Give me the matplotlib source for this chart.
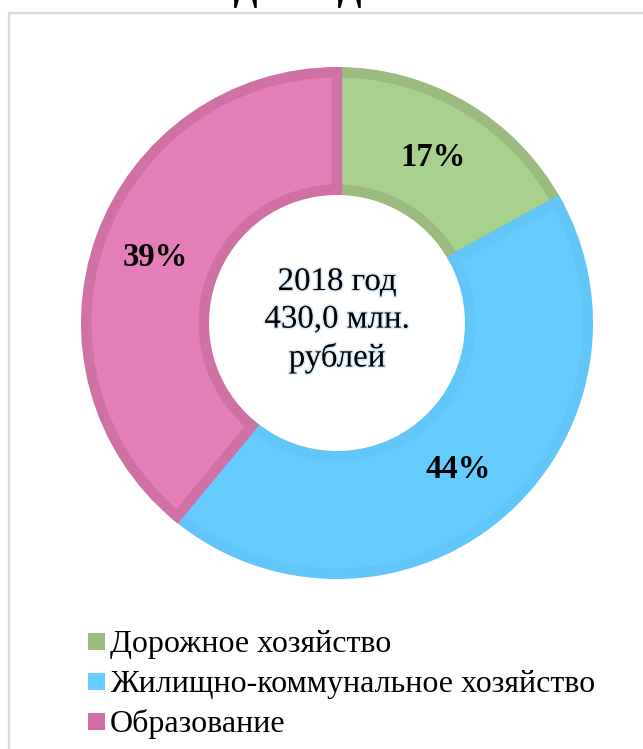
import matplotlib
matplotlib.use("Agg")
import matplotlib.pyplot as plt
import matplotlib.patheffects as pe
from matplotlib.patches import Rectangle

# ---- data ----
categories = ["Дорожное хозяйство", "Жилищно-коммунальное хозяйство", "Образование"]
shares = [17, 44, 39]
pct_labels = ["17%", "44%", "39%"]
center_text = "2018 год\n430,0 млн.\nрублей"
title_fragments = ["ГОД", "ГОД"]

fill_colors = ["#A9D18E", "#66CCFF", "#E47EB8"]
edge_colors = ["#9BBB7F", "#62C6F9", "#D071A6"]
legend_colors = ["#9BBB7F", "#66CCFF", "#D070A6"]

W, H = 643, 749
DPI = 100
fig = plt.figure(figsize=(W / DPI, H / DPI), dpi=DPI)
fig.patch.set_facecolor("white")

ax = fig.add_axes([0, 0, 1, 1])
serif = ["Liberation Serif", "DejaVu Serif"]

# frame
fig.patches.append(Rectangle((9 / W, -0.1), 2.0, 1 - 13 / H + 0.1, transform=fig.transFigure,
                             fill=False, edgecolor="#D9D9D9", linewidth=1.6))

cx, cy = 337, H - 323
R = 256
ring = 0.5
border_px = 10.5

wedges, _ = ax.pie(shares, colors=fill_colors, startangle=90, counterclock=False,
                   center=(cx, cy), radius=R - border_px / 2,
                   wedgeprops=dict(width=R * ring - border_px,
                                   linewidth=border_px * 72 / DPI))
for w, ec in zip(wedges, edge_colors):
    w.set_edgecolor(ec)
    w.set_joinstyle("miter")

ax.set_xlim(0, W)
ax.set_ylim(0, H)
ax.set_aspect("auto")
ax.axis("off")

# percent labels
label_pos = [(433, 157), (458, 470), (155, 258)]
for (x, y), t in zip(label_pos, pct_labels):
    ax.text(x, H - y, t, ha="center", va="center", fontsize=23.5, fontweight="bold",
            family=serif, color="black")

# center text
ax.text(cx, H - 320, center_text, ha="center", va="center", fontsize=23.7,
        family=serif, color="black", linespacing=1.3,
        path_effects=[pe.withStroke(linewidth=2.5, foreground="#D3E6F6", alpha=0.7)])

# cut-off title fragments
for xr, t in zip([258, 362], title_fragments):
    fig.text(xr / W, 1.0, t, ha="right", va="baseline", fontsize=25,
             fontweight="bold", family=serif, color="black")

# legend
leg_y = [641, 681, 721]
for y, c, name in zip(leg_y, legend_colors, categories):
    fig.patches.append(Rectangle((88 / W, 1 - (y + 8.5) / H), 17 / W, 17 / H,
                                 transform=fig.transFigure, facecolor=c, edgecolor="none"))
    fig.text(110 / W, 1 - (y + 11) / H, name, ha="left", va="baseline", fontsize=23,
             family=serif, color="black")

fig.savefig("out.png", dpi=DPI, facecolor="white")
